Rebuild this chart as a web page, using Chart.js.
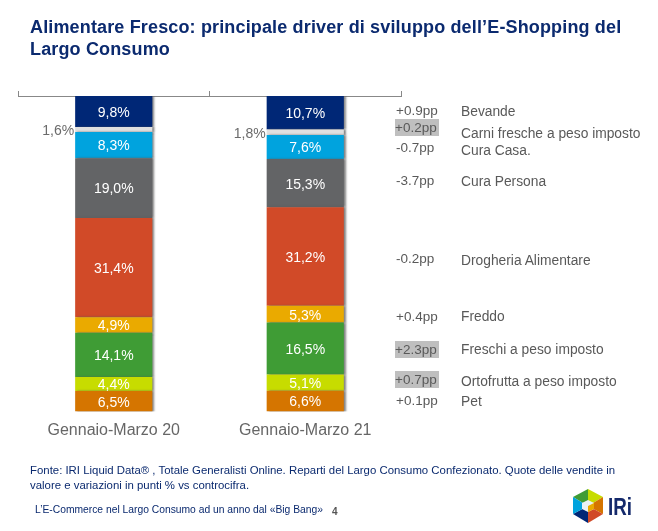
<!DOCTYPE html>
<html lang="it"><head><meta charset="utf-8">
<script src="https://cdn.jsdelivr.net/npm/chart.js@4"></script>
<style>
html,body{margin:0;padding:0;background:#fff;width:658px;height:531px;overflow:hidden}
body{position:relative;font-family:"Liberation Sans",Arial,sans-serif}
canvas{position:absolute;left:0;top:0}
.t{position:absolute;white-space:nowrap}
#title{left:30px;top:16px;font-size:18px;line-height:22px;font-weight:bold;color:#0b2a6f;letter-spacing:.15px}
#src{left:30px;top:463px;font-size:11.4px;line-height:15px;color:#0b2a6f}
#foot{left:35px;top:504px;font-size:10.3px;line-height:12px;color:#0b2a6f}
#page{left:332px;top:506px;font-size:10px;line-height:11px;color:#555;font-weight:bold}
.pp{font-size:13.5px;line-height:17px;color:#595959;left:396px;width:44px}
.pp.hl{background:#bfbfbf;left:395px}
.nm{font-size:13.8px;line-height:16px;color:#595959;left:461px}
#logo{position:absolute;left:570px;top:488px}
</style></head><body>
<canvas id="c" width="658" height="531"></canvas>
<div class="t" id="title">Alimentare Fresco: principale driver di sviluppo dell’E-Shopping del<br>Largo Consumo</div>
<div class="t" id="src">Fonte: IRI Liquid Data® , Totale Generalisti Online. Reparti del Largo Consumo Confezionato. Quote delle vendite in<br>valore e variazioni in punti % vs controcifra.</div>
<div class="t" id="foot">L’E-Commerce nel Largo Consumo ad un anno dal «Big Bang»</div>
<div class="t" id="page">4</div>
<svg id="logo" width="66" height="36" viewBox="0 0 66 36">
<polygon points="18,18 18,1 3,9" fill="#3f9c35"/><polygon points="18,18 18,1 33,9" fill="#c7dc00"/>
<polygon points="18,18 33,9 33,26" fill="#d57500"/><polygon points="18,18 33,26 18,35" fill="#d14a28"/>
<polygon points="18,18 18,35 3,26" fill="#002776"/><polygon points="18,18 3,26 3,9" fill="#00a3de"/>
<polygon points="18,12 24,15 24,21 18,24 12,21 12,15" fill="#eaf2f5"/><polygon points="18,18 24,15 24,21 18,24" fill="#eaaa00"/>
<text x="38" y="27" font-family="Liberation Sans" font-weight="bold" font-size="23" fill="#14296b" textLength="24" lengthAdjust="spacingAndGlyphs">IRi</text>
</svg>
<script>
// Data
const categories = ["Gennaio-Marzo 20", "Gennaio-Marzo 21"];
const segmentNames = ["Pet","Ortofrutta a peso imposto","Freschi a peso imposto","Freddo","Drogheria Alimentare","Cura Persona","Cura Casa.","Carni fresche a peso imposto","Bevande"];
const q120 = [6.5,4.4,14.1,4.9,31.4,19.0,8.3,1.6,9.8];
const q121 = [6.6,5.1,16.5,5.3,31.2,15.3,7.6,1.8,10.7];
const deltaLabels = ["+0.1pp","+0.7pp","+2.3pp","+0.4pp","-0.2pp","-3.7pp","-0.7pp","+0.2pp","+0.9pp"];
const highlighted = ["Ortofrutta a peso imposto","Freschi a peso imposto","Carni fresche a peso imposto"];

// Style and layout (separate from data)
const colors = ["#d57500","#c7dc00","#3f9c35","#eaaa00","#d14a28","#636466","#00a3de","#e0e0e0","#002776"];
const deltaTop = [392,371,341,308,250,172,139,119,102];
const nameTop  = [394,374,342,309,253,174,143,126,104];

segmentNames.forEach((n,i)=>{
  const d=document.createElement('div');
  d.className='t pp'+(highlighted.includes(n)?' hl':'');
  d.style.top=deltaTop[i]+'px'; d.textContent=deltaLabels[i]; document.body.appendChild(d);
  const e=document.createElement('div');
  e.className='t nm'; e.style.top=nameTop[i]+'px'; e.textContent=n; document.body.appendChild(e);
});

const fmt=v=>v.toFixed(1).replace('.',',')+'%';
const labelPlugin={id:'segLabels',
  beforeDatasetDraw(ch){const x=ch.ctx;x.save();x.shadowColor='rgba(90,90,90,.75)';x.shadowOffsetX=2;x.shadowOffsetY=0;x.shadowBlur=2;},
  afterDatasetDraw(ch){ch.ctx.restore();},
  afterDatasetsDraw(ch){
    const x=ch.ctx;x.save();x.textBaseline='middle';
    ch.data.datasets.forEach((ds,di)=>{
      ch.getDatasetMeta(di).data.forEach((b,i)=>{
        const v=ds.data[i];
        x.font='14px "Liberation Sans"';
        if(v<3){x.fillStyle='#6b6b6b';x.textAlign='right';x.fillText(fmt(v),b.x-b.width/2-1,(b.y+b.base)/2+2);}
        else{x.fillStyle='#fff';x.textAlign='center';x.fillText(fmt(v),b.x,(b.y+b.base)/2+1.5);}
      });
    });
    x.restore();
  }};
new Chart(document.getElementById('c'),{
  type:'bar',
  data:{labels:categories,datasets:segmentNames.map((n,i)=>({label:n,data:[q120[i],q121[i]],backgroundColor:colors[i],stack:'s',categoryPercentage:1,barPercentage:.403}))},
  plugins:[labelPlugin],
  options:{responsive:false,animation:false,devicePixelRatio:1,
    layout:{padding:{left:18,right:257,top:91,bottom:0}},
    plugins:{legend:{display:false},tooltip:{enabled:false},title:{display:false}},
    scales:{
      x:{type:'category',position:'top',stacked:true,
        ticks:{display:false},
        grid:{display:true,offset:true,drawOnChartArea:false,drawTicks:true,tickLength:5,color:'#888',lineWidth:1},
        border:{display:true,color:'#888',width:1}},
      x2:{type:'category',labels:categories,position:'bottom',
        grid:{display:false},border:{display:false},
        ticks:{color:'#666',font:{family:'"Liberation Sans"',size:16},padding:1,maxRotation:0,autoSkip:false},
        afterFit(s){s.height=119.5;}},
      y:{display:false,stacked:true,min:0,max:100}
    }}
});
</script>
</body></html>
